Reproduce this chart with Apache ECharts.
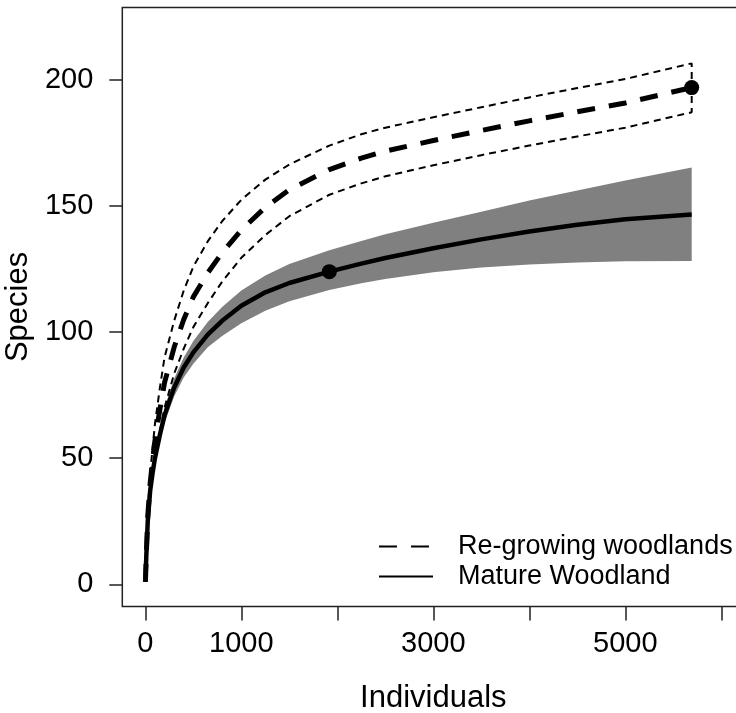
<!DOCTYPE html>
<html>
<head>
<meta charset="utf-8">
<script src="https://cdn.jsdelivr.net/npm/echarts@6/dist/echarts.min.js"></script>
<style>
html,body{margin:0;padding:0;background:#fff;}
#c{width:736px;height:713px;}
</style>
</head>
<body>
<div id="c"></div>
<script>
// Individuals (sample size) at which curves were read
var individuals = [1, 10, 25, 50, 75, 100, 150, 200, 300, 400, 500, 650, 800, 1000, 1250, 1500, 1917, 2250, 2500, 3000, 3500, 4000, 4500, 5000, 5692];
// Mature Woodland: estimate and confidence band
var matureMean  = [1, 11, 25, 37, 44, 50, 59, 67, 78, 86, 92, 99, 104.5, 110.5, 115.8, 119.5, 124, 127.2, 129.4, 133.3, 136.8, 139.9, 142.6, 144.8, 146.7];
var matureLower = [1, 10.5, 24, 35.5, 42.5, 48, 56.5, 64, 74.5, 82, 87.5, 94, 98.5, 103.5, 108.5, 112.3, 116.7, 119.4, 121.1, 123.8, 125.6, 126.8, 127.6, 128.1, 128.2];
var matureUpper = [1, 11.5, 26, 38.5, 45.5, 52, 61.5, 70, 81.5, 90, 96.5, 104, 110, 116.5, 122.5, 127, 132.5, 136.2, 138.8, 143.4, 147.8, 152.2, 156.2, 160.1, 165.3];
// Re-growing woodlands: estimate and confidence limits
var regrowMean  = [1, 11.5, 27, 40, 49, 57, 69, 80, 94, 105, 114, 123.5, 131.5, 140.5, 149.5, 156.5, 164.5, 169, 171.8, 176, 180, 183.8, 187.4, 190.9, 197];
var regrowUpper = [1, 12, 28.5, 43.5, 54, 63.5, 77.5, 90, 104.5, 116.5, 126, 136, 144, 152.5, 160.5, 166.5, 174, 178.5, 181.1, 185.2, 189.2, 193.1, 196.8, 200.4, 206.6];
var regrowLower = [1, 11, 25.5, 36.5, 44, 50.5, 60.5, 70, 83.5, 93.5, 102, 111.5, 120, 129.5, 138.5, 146, 154.5, 159, 161.8, 166.2, 170.2, 174, 177.6, 181.1, 187.2];
// Observed reference samples
var matureObs = [1917, 124];
var regrowObs = [5692, 197];
// Axis ticks
var xTicks = [0, 1000, 2000, 3000, 4000, 5000, 6000];
var xLabels = [0, 1000, 3000, 5000];
var yTicks = [0, 50, 100, 150, 200];

function pairs(xs, ys) { return xs.map(function (x, i) { return [x, ys[i]]; }); }
var bandPoly = pairs(individuals, matureUpper).concat(pairs(individuals, matureLower).reverse());
var ciOutline = pairs(individuals, regrowUpper).concat(pairs(individuals, regrowLower).reverse());

var FONT = 'Liberation Sans, Arial, sans-serif';
var chart = echarts.init(document.getElementById('c'));
chart.setOption({
  animation: false,
  backgroundColor: '#fff',
  grid: { left: 122.3, top: 7.4, width: 622, height: 599.1, outerBoundsMode: 'none', containLabel: false, show: true, borderColor: '#222', borderWidth: 1.5, backgroundColor: 'transparent' },
  xAxis: {
    type: 'value', min: -240, max: 6240,
    axisLine: { show: false, onZero: false },
    splitLine: { show: false },
    axisTick: { show: true, inside: false, length: 14, customValues: xTicks, lineStyle: { color: '#222', width: 1.5 } },
    axisLabel: { customValues: xLabels, fontSize: 29, margin: 23, color: '#000', fontFamily: FONT, formatter: function (v) { return String(v); } },
    name: 'Individuals', nameLocation: 'middle', nameGap: 76,
    nameTextStyle: { fontSize: 31, color: '#000', fontFamily: FONT }
  },
  yAxis: {
    type: 'value', min: -8.8, max: 228.8,
    axisLine: { show: false, onZero: false },
    splitLine: { show: false },
    axisTick: { show: true, inside: false, length: 13, customValues: yTicks, lineStyle: { color: '#222', width: 1.5 } },
    axisLabel: { customValues: yTicks, fontSize: 29, margin: 29, color: '#000', fontFamily: FONT, formatter: function (v) { return String(v); } },
    name: 'Species', nameLocation: 'middle', nameGap: 78, nameRotate: 90,
    nameTextStyle: { fontSize: 31, color: '#000', fontFamily: FONT }
  },
  legend: {
    orient: 'vertical', left: 373, top: 528, itemGap: 3, itemWidth: 54, itemHeight: 14,
    data: ['Re-growing woodlands', 'Mature Woodland'],
    itemStyle: { opacity: 0 },
    textStyle: { fontSize: 27, color: '#000', fontFamily: FONT, padding: [0, 0, 0, 20] }
  },
  series: [
    {
      name: 'band', type: 'custom', silent: true, z: 1,
      data: [[individuals[0], matureLower[0]]],
      renderItem: function (params, api) {
        var pts = bandPoly.map(function (p) { return api.coord(p); });
        return { type: 'polygon', shape: { points: pts }, style: { fill: '#808080', stroke: null } };
      }
    },
    { name: 'ci', type: 'line', data: ciOutline, symbol: 'none', lineStyle: { color: '#000', width: 2, type: [7, 5] }, z: 2, silent: true },
    { name: 'Re-growing woodlands', type: 'line', data: pairs(individuals, regrowMean), symbol: 'none', lineStyle: { color: '#000', width: 5, type: [18, 14] }, itemStyle: { color: '#000' }, z: 3 },
    { name: 'Mature Woodland', type: 'line', data: pairs(individuals, matureMean), symbol: 'none', lineStyle: { color: '#000', width: 4.5 }, itemStyle: { color: '#000' }, z: 3 },
    { name: 'obs', type: 'scatter', data: [matureObs, regrowObs], symbolSize: 15, itemStyle: { color: '#000', opacity: 1 }, z: 4 }
  ]
});
</script>
</body>
</html>
